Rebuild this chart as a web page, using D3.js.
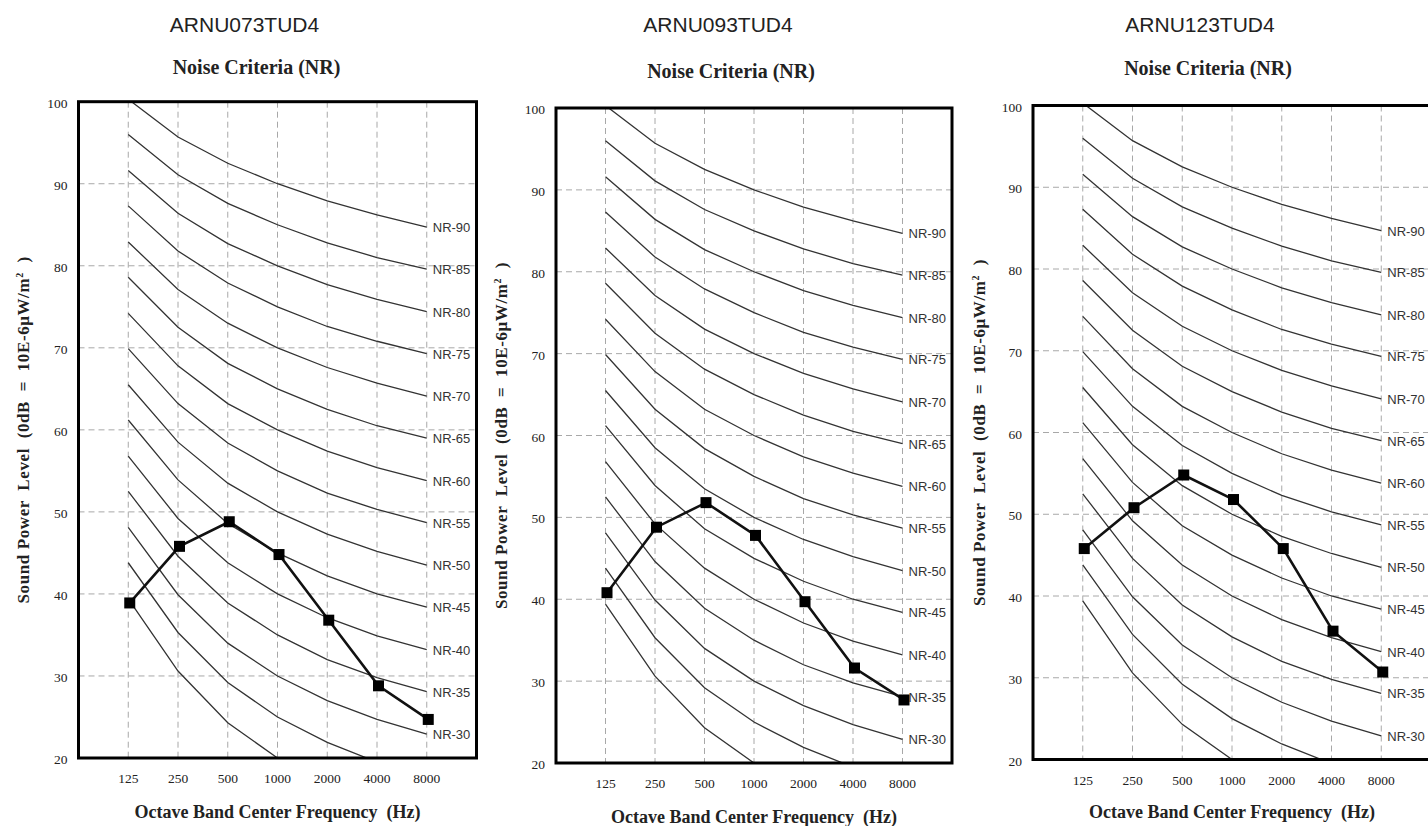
<!DOCTYPE html>
<html>
<head>
<meta charset="utf-8">
<script src="https://cdn.jsdelivr.net/npm/d3@7"></script>
<style>
  html, body { margin: 0; padding: 0; background: #fff; overflow: hidden; }
  svg { display: block; }
</style>
</head>
<body>
<svg id="chart" width="1428" height="826"></svg>
<script>
// ---------------- DATA ----------------
const freqLabels = ["125", "250", "500", "1000", "2000", "4000", "8000"];
const models = ["ARNU073TUD4", "ARNU093TUD4", "ARNU123TUD4"];
const yTicks = [20, 30, 40, 50, 60, 70, 80, 90, 100];

// Sound power level per octave band (dB)
const splARNU073 = [38.9, 45.8, 48.8, 44.8, 36.8, 28.8, 24.7];
const splARNU093 = [40.8, 48.8, 51.8, 47.8, 39.7, 31.6, 27.7];
const splARNU123 = [45.8, 50.8, 54.8, 51.8, 45.8, 35.7, 30.7];

// NR curve names and their levels at 125..8000 Hz
const nrNames = ["NR-20", "NR-25", "NR-30", "NR-35", "NR-40", "NR-45", "NR-50", "NR-55",
                 "NR-60", "NR-65", "NR-70", "NR-75", "NR-80", "NR-85", "NR-90"];
const nrLabelled = ["NR-30", "NR-35", "NR-40", "NR-45", "NR-50", "NR-55", "NR-60",
                    "NR-65", "NR-70", "NR-75", "NR-80", "NR-85", "NR-90"];
const nrCurveValues = [
  [39.4, 30.6, 24.3, 20.0, 16.8, 14.4, 12.6],
  [43.8, 35.3, 29.2, 25.0, 21.9, 19.5, 17.8],
  [48.1, 39.9, 34.0, 30.0, 27.0, 24.7, 22.9],
  [52.5, 44.6, 38.9, 35.0, 32.0, 29.8, 28.1],
  [56.8, 49.2, 43.8, 40.0, 37.1, 34.9, 33.2],
  [61.2, 53.9, 48.6, 45.0, 42.2, 40.0, 38.4],
  [65.5, 58.5, 53.5, 50.0, 47.3, 45.2, 43.5],
  [69.9, 63.2, 58.4, 55.0, 52.3, 50.3, 48.7],
  [74.2, 67.8, 63.2, 60.0, 57.4, 55.4, 53.8],
  [78.6, 72.5, 68.1, 65.0, 62.5, 60.5, 59.0],
  [82.9, 77.1, 73.0, 70.0, 67.6, 65.7, 64.1],
  [87.3, 81.8, 77.9, 75.0, 72.6, 70.8, 69.3],
  [91.6, 86.4, 82.7, 80.0, 77.7, 75.9, 74.4],
  [96.0, 91.1, 87.6, 85.0, 82.8, 81.0, 79.6],
  [100.3, 95.7, 92.5, 90.0, 87.9, 86.2, 84.7]
];

const mainTitle = "Noise Criteria (NR)";
const xTitle = "Octave Band Center Frequency\u00a0\u00a0(Hz)";
const yTitle = "Sound Power  Level  (0dB  =  10E-6\u03bcW/m";

// ---------------- LAYOUT ----------------
const panels = [
  { model: models[0], spl: splARNU073, x0: 78.5, x1: 476.5, y0: 101.7, y1: 758, titleDX: 166, subDX: 178, modelY: 32, titleY: 74, xTitleY: 818, yTitleX: 29 },
  { model: models[1], spl: splARNU093, x0: 556, x1: 952, y0: 108, y1: 763, titleDX: 162, subDX: 175, modelY: 32, titleY: 78, xTitleY: 823, yTitleX: 507 },
  { model: models[2], spl: splARNU123, x0: 1033, x1: 1431, y0: 105.5, y1: 759.5, titleDX: 167, subDX: 175, modelY: 32, titleY: 75, xTitleY: 818, yTitleX: 985 }
];

const svg = d3.select("#chart");
const serif = "'Liberation Serif', 'Times New Roman', serif";
const sans = "'Liberation Sans', Arial, sans-serif";
const ink = "#222";

panels.forEach((p, pi) => {
  const g = svg.append("g");
  const x = d3.scalePoint().domain(freqLabels).range([p.x0, p.x1]).padding(1);
  const y = d3.scaleLinear().domain([20, 100]).range([p.y1, p.y0]);

  const clipId = "clip" + pi;
  svg.append("clipPath").attr("id", clipId).append("rect")
    .attr("x", p.x0).attr("y", p.y0).attr("width", p.x1 - p.x0).attr("height", p.y1 - p.y0);

  // titles
  g.append("text").attr("x", p.x0 + p.titleDX).attr("y", p.modelY)
    .attr("text-anchor", "middle").attr("font-family", sans).attr("font-size", 21)
    .attr("fill", ink).text(p.model);
  g.append("text").attr("x", p.x0 + p.subDX).attr("y", p.titleY)
    .attr("text-anchor", "middle").attr("font-family", serif).attr("font-size", 20)
    .attr("font-weight", "bold").attr("fill", ink).text(mainTitle);

  // grid
  const grid = g.append("g").attr("stroke", "#a8a8a8").attr("stroke-width", 1)
    .attr("stroke-dasharray", "6,4");
  grid.selectAll(".h").data(yTicks.filter(t => t > 20 && t < 100)).join("line")
    .attr("x1", p.x0).attr("x2", p.x1).attr("y1", d => y(d)).attr("y2", d => y(d));
  grid.selectAll(".v").data(freqLabels).join("line")
    .attr("x1", d => x(d)).attr("x2", d => x(d)).attr("y1", p.y0).attr("y2", p.y1);

  // y tick labels
  g.append("g").selectAll("text").data(yTicks).join("text")
    .attr("x", p.x0 - 11).attr("y", d => y(d) + 6)
    .attr("text-anchor", "end").attr("font-family", serif).attr("font-size", 13.5)
    .attr("fill", "#222").text(d => d);

  // x tick labels
  g.append("g").selectAll("text").data(freqLabels).join("text")
    .attr("x", d => x(d)).attr("y", p.y1 + 25)
    .attr("text-anchor", "middle").attr("font-family", serif).attr("font-size", 13.5)
    .attr("fill", "#222").text(d => d);

  // NR curves
  const line = d3.line().x((d, i) => x(freqLabels[i])).y(d => y(d));
  g.append("g").attr("clip-path", `url(#${clipId})`)
    .selectAll("path").data(nrCurveValues).join("path")
    .attr("d", line).attr("fill", "none").attr("stroke", "#333").attr("stroke-width", 1.3);

  // NR labels
  g.append("g").selectAll("text").data(nrNames.map((n, i) => ({ n, v: nrCurveValues[i][6] }))
      .filter(d => nrLabelled.includes(d.n))).join("text")
    .attr("x", x("8000") + 6).attr("y", d => y(d.v) + 5)
    .attr("font-family", sans).attr("font-size", 13).attr("fill", "#333").text(d => d.n);

  // frame
  g.append("rect").attr("x", p.x0).attr("y", p.y0)
    .attr("width", p.x1 - p.x0).attr("height", p.y1 - p.y0)
    .attr("fill", "none").attr("stroke", "#000").attr("stroke-width", 3);

  // data line
  g.append("path").datum(p.spl)
    .attr("d", d3.line().x((d, i) => x(freqLabels[i]) + 1.5).y(d => y(d)))
    .attr("fill", "none").attr("stroke", "#111").attr("stroke-width", 2.6);
  g.append("g").selectAll("rect").data(p.spl).join("rect")
    .attr("x", (d, i) => x(freqLabels[i]) + 1.5 - 5.5).attr("y", d => y(d) - 5.5)
    .attr("width", 11).attr("height", 11).attr("fill", "#000");

  // axis titles
  g.append("text").attr("x", (p.x0 + p.x1) / 2).attr("y", p.xTitleY)
    .attr("text-anchor", "middle").attr("font-family", serif).attr("font-size", 18)
    .attr("font-weight", "bold").attr("fill", ink).text(xTitle);

  const yt = g.append("text")
    .attr("transform", `translate(${p.yTitleX},${(p.y0 + p.y1) / 2}) rotate(-90)`)
    .attr("text-anchor", "middle").attr("font-family", serif).attr("font-size", 17)
    .attr("font-weight", "bold").attr("fill", ink).attr("letter-spacing", 0.6)
    .style("white-space", "pre");
  yt.append("tspan").text(yTitle);
  yt.append("tspan").attr("dy", -6).attr("font-size", 10).text("2");
  yt.append("tspan").attr("dy", 6).text("  )");
});
</script>
</body>
</html>
